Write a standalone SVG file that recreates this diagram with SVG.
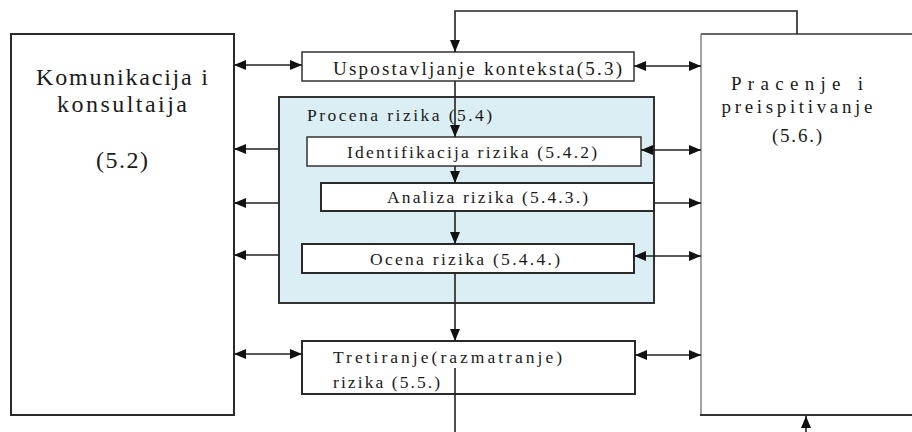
<svg xmlns="http://www.w3.org/2000/svg" width="912" height="432" viewBox="0 0 912 432">
  <style>
    .box { fill: #ffffff; stroke: #2a2a2a; stroke-width: 2; }
    .thin { fill: #ffffff; stroke: #333333; stroke-width: 1.5; }
    .group { fill: #daeef3; stroke: #333333; stroke-width: 2; }
    text { font-family: "Liberation Serif", "DejaVu Serif", "Times New Roman", serif; fill: #1a1a1a; }
    .big { font-size: 24px; }
    .mid { font-size: 19px; }
    .sm { font-size: 17.5px; }
    .conn { stroke: #222222; stroke-width: 1.6; fill: none; }
  </style>
  <defs>
    <marker id="head" viewBox="0 0 12 10" refX="12" refY="5" markerWidth="12" markerHeight="10" markerUnits="userSpaceOnUse" orient="auto-start-reverse">
      <path d="M0,0 L12,5 L0,10 Z" fill="#111111"/>
    </marker>
  </defs>

  <!-- left side: communication and consultation -->
  <g id="komunikacija">
    <rect class="box" x="11" y="34" width="223" height="381"/>
    <text class="big" x="122" y="85" text-anchor="middle" textLength="172" lengthAdjust="spacing">Komunikacija i</text>
    <text class="big" x="122" y="112" text-anchor="middle" textLength="130" lengthAdjust="spacing">konsultaija</text>
    <text class="big" x="122" y="168" text-anchor="middle" textLength="52" lengthAdjust="spacing">(5.2)</text>
  </g>

  <!-- right side: monitoring and review -->
  <g id="pracenje">
    <rect x="701" y="34" width="212" height="381" fill="#ffffff" stroke="none"/>
    <path d="M701,34 H912" stroke="#333333" stroke-width="1.6"/>
    <path d="M701,34 V415" stroke="#666666" stroke-width="1.2"/>
    <path d="M700,415 H912" stroke="#333333" stroke-width="2"/>
    <text class="mid" x="797" y="90" text-anchor="middle" textLength="132" lengthAdjust="spacing">Pracenje i</text>
    <text class="mid" x="797" y="113" text-anchor="middle" textLength="151" lengthAdjust="spacing">preispitivanje</text>
    <text class="mid" x="797" y="142" text-anchor="middle" textLength="50" lengthAdjust="spacing">(5.6.)</text>
  </g>

  <!-- context establishment -->
  <g id="kontekst">
    <rect class="thin" x="302" y="52" width="332" height="29"/>
    <text class="mid" x="333" y="75" textLength="289" lengthAdjust="spacing">Uspostavljanje konteksta(5.3)</text>
  </g>

  <!-- risk assessment group -->
  <g id="procena">
    <rect class="group" x="279" y="97" width="375" height="206"/>
    <text class="sm" x="307" y="121" textLength="185" lengthAdjust="spacing">Procena rizika (5.4)</text>
  </g>

  <g id="identifikacija">
    <rect class="thin" x="307" y="137" width="334" height="29"/>
    <text class="sm" x="347" y="158" textLength="250" lengthAdjust="spacing">Identifikacija rizika (5.4.2)</text>
  </g>

  <g id="analiza">
    <rect class="box" x="321" y="183" width="333" height="28"/>
    <text class="sm" x="387" y="203" textLength="201" lengthAdjust="spacing">Analiza rizika (5.4.3.)</text>
  </g>

  <g id="ocena">
    <rect class="box" x="302" y="244" width="332" height="29"/>
    <text class="sm" x="370" y="265" textLength="190" lengthAdjust="spacing">Ocena rizika (5.4.4.)</text>
  </g>

  <!-- risk treatment -->
  <g id="tretiranje">
    <rect class="box" x="302" y="341" width="333" height="53"/>
    <text class="sm" x="333" y="363" textLength="229" lengthAdjust="spacing">Tretiranje(razmatranje)</text>
    <text class="sm" x="333" y="388" textLength="107" lengthAdjust="spacing">rizika (5.5.)</text>
  </g>

  <!-- connectors -->
  <g id="connectors">
    <!-- feedback loop from monitoring back to context -->
    <path class="conn" d="M797,34 V11 H455 V52" marker-end="url(#head)"/>
    <!-- main vertical flow -->
    <path class="conn" d="M455,81 V137" marker-end="url(#head)"/>
    <path class="conn" d="M455,166 V183" marker-end="url(#head)"/>
    <path class="conn" d="M455,211 V244" marker-end="url(#head)"/>
    <path class="conn" d="M455,273 V341" marker-end="url(#head)"/>
    <path class="conn" d="M455,368 V432"/>
    <path class="conn" d="M806,432 V416" marker-end="url(#head)"/>

    <!-- left links to communication -->
    <path class="conn" d="M234,65 H302" marker-start="url(#head)" marker-end="url(#head)"/>
    <path class="conn" d="M279,149 H234" marker-end="url(#head)"/>
    <path class="conn" d="M279,203 H234" marker-end="url(#head)"/>
    <path class="conn" d="M279,255 H234" marker-end="url(#head)"/>
    <path class="conn" d="M234,354 H302" marker-start="url(#head)" marker-end="url(#head)"/>

    <!-- right links to monitoring -->
    <path class="conn" d="M634,66 H701" marker-start="url(#head)" marker-end="url(#head)"/>
    <path class="conn" d="M641,150 H701" marker-start="url(#head)" marker-end="url(#head)"/>
    <path class="conn" d="M654,203 H701" marker-end="url(#head)"/>
    <path class="conn" d="M634,256 H701" marker-start="url(#head)" marker-end="url(#head)"/>
    <path class="conn" d="M635,355 H701" marker-start="url(#head)" marker-end="url(#head)"/>
  </g>
</svg>
